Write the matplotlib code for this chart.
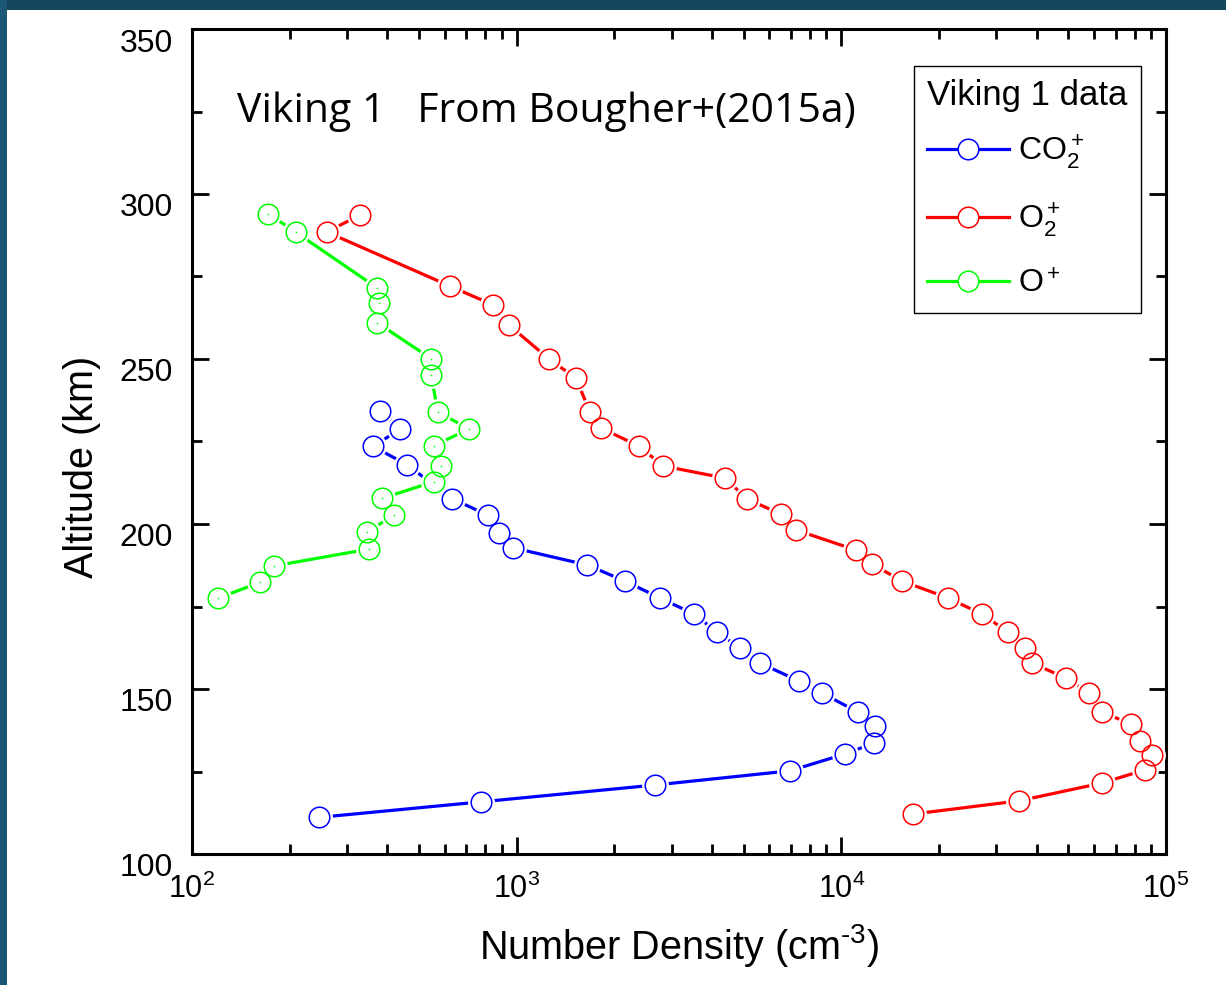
import matplotlib
matplotlib.use("Agg")
import matplotlib.pyplot as plt
from matplotlib.lines import Line2D
from matplotlib.patches import Rectangle
from matplotlib.transforms import ScaledTranslation
from matplotlib.ticker import LogLocator, FixedLocator

plt.rcParams['font.family'] = ['Liberation Sans', 'DejaVu Sans']
plt.rcParams['mathtext.fontset'] = 'custom'
plt.rcParams['mathtext.rm'] = 'Liberation Sans'
plt.rcParams['mathtext.it'] = 'Liberation Sans:italic'
plt.rcParams['mathtext.bf'] = 'Liberation Sans:bold'

# ---- data ----
co2_density = [380, 437, 362, 460, 632, 818, 882, 974, 1647, 2155, 2762, 3515, 4140,
               4872, 5612, 7400, 8711, 11240, 12690, 12600, 10250, 6945, 2666, 776, 246]
co2_alt = [234.2, 228.8, 223.5, 217.9, 207.7, 202.6, 197.4, 192.8, 187.6, 182.7, 177.6,
           172.7, 167.3, 162.4, 157.9, 152.4, 148.8, 143.0, 138.8, 133.6, 130.3, 125.2,
           120.9, 115.8, 111.1]

o2_density = [329, 260, 623, 845, 946, 1258, 1522, 1682, 1818, 2380, 2822, 4380, 5120,
              6510, 7244, 11090, 12420, 15370, 21290, 27100, 32580, 36740, 38600, 49170,
              57880, 63480, 77980, 83100, 90500, 86100, 63480, 35240, 16610]
o2_alt = [293.6, 288.5, 272.1, 266.4, 260.3, 250.0, 244.2, 233.9, 229.1, 223.6, 217.6,
          213.9, 207.6, 203.0, 198.2, 192.1, 187.9, 182.7, 177.6, 172.7, 167.3, 162.4,
          157.9, 153.3, 148.8, 143.0, 139.4, 134.2, 130.0, 125.5, 121.5, 116.1, 112.1]

o_density = [172, 209, 371, 376, 372, 545, 545, 572, 714, 555, 583, 555, 386, 418,
             346, 351, 179, 162, 120]
o_alt = [294.0, 288.4, 271.6, 267.1, 261.0, 250.1, 245.2, 233.9, 228.8, 223.7, 217.6,
         212.8, 207.8, 202.7, 197.5, 192.4, 187.3, 182.3, 177.5]

series = [
    (co2_density, co2_alt, '#0000ff', r'CO$_2^+$', False),
    (o2_density, o2_alt, '#ff0000', r'O$_2^+$', False),
    (o_density, o_alt, '#00ff00', r'O$^+$', True),
]

title_text = 'Viking 1   From Bougher+(2015a)'
legend_title = 'Viking 1 data'
xlabel = 'Number Density (cm$^{\u2010' + '3}$)'
ylabel = 'Altitude (km)'
yticks = [100, 150, 200, 250, 300, 350]
yminor = [125, 175, 225, 275, 325]

W, H, DPI = 1226, 985, 100
fig = plt.figure(figsize=(W / DPI, H / DPI), dpi=DPI)
fig.patch.set_facecolor('white')

# dark frame on top and left
fig.add_artist(Rectangle((0, 1 - 10 / H), 1, 10 / H, transform=fig.transFigure,
                         facecolor='#16465e', edgecolor='none', zorder=0))
fig.add_artist(Rectangle((0, 0), 7 / W, 1, transform=fig.transFigure,
                         facecolor='#1a5675', edgecolor='none', zorder=0))

L, R, T, B = 192, 1166, 29, 854
ax = fig.add_axes([L / W, 1 - B / H, (R - L) / W, (B - T) / H])

MS = 14.8
for dens, alt, col, lab, dot in series:
    ax.plot(dens, alt, '-', color=col, lw=2.3, zorder=2, solid_capstyle='butt')
    ax.plot(dens, alt, 'o', ms=MS + 4.5, mfc='white', mec='none', zorder=3)
    ax.plot(dens, alt, 'o', ms=MS, mfc='none', mec=col, mew=1.1, zorder=4)
    if dot:
        ax.plot(dens, alt, 'o', ms=1.2, mfc=col, mec='none', zorder=5)

ax.set_xscale('log')
ax.set_xlim(100, 1e5)
ax.set_ylim(100, 350)
ax.xaxis.set_major_locator(LogLocator(base=10, numticks=10))
ax.xaxis.set_minor_locator(LogLocator(base=10, subs=range(2, 10), numticks=20))
ax.yaxis.set_major_locator(FixedLocator(yticks))
ax.yaxis.set_minor_locator(FixedLocator(yminor))

for s in ax.spines.values():
    s.set_linewidth(2.2)
ax.tick_params(which='both', direction='in', top=True, right=True, width=2.0)
ax.tick_params(which='major', length=12.5)
ax.tick_params(which='minor', length=7)
ax.tick_params(axis='y', which='major', labelsize=23, pad=14)
ax.tick_params(axis='x', which='major', labelsize=22, pad=14)

# shift y tick labels slightly downward as in the reference
off = ScaledTranslation(0, -11 / DPI, fig.dpi_scale_trans)
for lbl in ax.get_yticklabels():
    lbl.set_transform(lbl.get_transform() + off)

ax.set_ylabel(ylabel, fontsize=28.5)
ax.yaxis.set_label_coords(-0.093, 0.4695)
ax.set_xlabel(xlabel, fontsize=28.5)
ax.xaxis.set_label_coords(0.5, -0.082)

ax.text(0.0462, 0.8876, title_text, transform=ax.transAxes, fontsize=29.5,
        family=['Open Sans', 'DejaVu Sans'], va='baseline', ha='left')

handles = [Line2D([], [], color=c, lw=2.3, marker='o', ms=MS, mfc='white', mec=c, mew=1.1)
           for _, _, c, _, _ in series]
labels = [s[3] for s in series]
leg = ax.legend(handles, labels, title=legend_title, loc='upper right',
                bbox_to_anchor=(0.9743, 0.9552), borderaxespad=0, fancybox=False,
                edgecolor='black', framealpha=1, fontsize=23, title_fontsize=25,
                handlelength=2.55, handletextpad=0.3, labelspacing=0.95,
                borderpad=0.42, numpoints=1)
leg.get_frame().set_linewidth(1.0)
leg._legend_box.align = 'left'
leg._legend_box.sep = 0.95 * 23 - 9.5 * 0.72

fig.savefig('out.png', dpi=DPI)
